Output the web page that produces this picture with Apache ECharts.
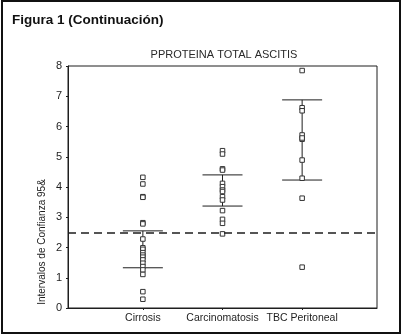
<!DOCTYPE html>
<html>
<head>
<meta charset="utf-8">
<script src="https://cdn.jsdelivr.net/npm/echarts@6/dist/echarts.min.js"></script>
<style>
  html, body { margin: 0; padding: 0; background: #fff; }
  #chart { width: 402px; height: 335px; }
</style>
</head>
<body>
<div id="chart"></div>
<script>
// groups on the x axis
const categories = ['Cirrosis', 'Carcinomatosis', 'TBC Peritoneal'];

const cirrosisValues = [4.32, 4.10, 3.68, 3.66, 2.82, 2.78, 2.28, 1.99, 1.94, 1.83, 1.75, 1.68, 1.59, 1.48, 1.37, 1.26, 1.11, 0.54, 0.29];
const carcinoValues = [5.20, 5.09, 4.60, 4.56, 4.12, 4.01, 3.90, 3.85, 3.68, 3.57, 3.22, 2.93, 2.80, 2.45];
const tbcValues = [7.85, 6.62, 6.52, 5.72, 5.58, 5.62, 4.89, 4.29, 3.63, 1.35];

// 95% confidence intervals per group
const ciLower = [1.33, 3.37, 4.23];
const ciUpper = [2.55, 4.40, 6.88];

// dashed reference line
const refLine = 2.5;

const groups = [cirrosisValues, carcinoValues, tbcValues];
const points = [];
groups.forEach((vals, i) => {
  vals.forEach(v => points.push([i + 1, v]));
});
const ciData = categories.map((c, i) => [i + 1, ciLower[i], ciUpper[i]]);

const ink = '#1e1e1e';
const font = '"Liberation Sans", Arial, sans-serif';

const chart = echarts.init(document.getElementById('chart'));

const option = {
  backgroundColor: '#fff',
  animation: false,
  title: {
    text: 'PPROTEINA TOTAL ASCITIS',
    left: 219,
    textAlign: 'center',
    top: 44,
    textStyle: { fontFamily: font, fontSize: 11, fontWeight: 'normal', color: '#2a2a2a' }
  },
  grid: {
    left: 68,
    right: 25,
    top: 66,
    bottom: 27,
    show: true,
    borderColor: ink,
    borderWidth: 1,
    backgroundColor: 'transparent'
  },
  xAxis: {
    type: 'value',
    min: 0.06,
    max: 3.94,
    axisLine: { show: true, lineStyle: { color: ink, width: 1 } },
    axisTick: { show: true, customValues: [1, 2, 3], length: 2, lineStyle: { color: ink } },
    axisLabel: {
      customValues: [1, 2, 3],
      formatter: v => categories[Math.round(v) - 1] || '',
      color: ink,
      fontFamily: font,
      fontSize: 10.5,
      margin: 5
    },
    splitLine: { show: false }
  },
  yAxis: {
    type: 'value',
    min: 0,
    max: 8,
    interval: 1,
    axisLine: { show: true, lineStyle: { color: ink, width: 1 } },
    axisTick: { show: true, length: 2, lineStyle: { color: ink } },
    axisLabel: { color: ink, fontFamily: font, fontSize: 11, margin: 6 },
    splitLine: { show: false }
  },
  series: [
    {
      type: 'custom',
      data: ciData,
      z: 3,
      renderItem: function (params, api) {
        const x = api.value(0);
        const lo = api.coord([x, api.value(1)]);
        const hi = api.coord([x, api.value(2)]);
        const hw = 20;
        const style = { stroke: ink, lineWidth: 1 };
        return {
          type: 'group',
          children: [
            { type: 'line', shape: { x1: lo[0], y1: lo[1], x2: hi[0], y2: hi[1] }, style },
            { type: 'line', shape: { x1: lo[0] - hw, y1: lo[1], x2: lo[0] + hw, y2: lo[1] }, style },
            { type: 'line', shape: { x1: hi[0] - hw, y1: hi[1], x2: hi[0] + hw, y2: hi[1] }, style }
          ]
        };
      }
    },
    {
      type: 'scatter',
      data: points,
      symbol: 'rect',
      symbolSize: 4.5,
      z: 4,
      itemStyle: { color: '#fff', borderColor: '#333', borderWidth: 1, opacity: 1 },
      markLine: {
        silent: true,
        symbol: ['none', 'none'],
        label: { show: false },
        lineStyle: { color: ink, type: [8, 5], width: 1.5 },
        data: [{ yAxis: refLine }]
      }
    }
  ],
  graphic: [
    {
      type: 'rect',
      shape: { x: 2, y: 1, width: 398, height: 332 },
      style: { fill: 'none', stroke: '#111', lineWidth: 2 },
      silent: true
    },
    {
      type: 'text',
      left: 12,
      top: 13,
      style: { text: 'Figura 1 (Continuación)', font: 'bold 13.5px ' + font, fill: '#111' }
    },
    {
      type: 'text',
      x: 42,
      y: 242,
      rotation: Math.PI / 2,
      style: {
        text: 'Intervalos de Confianza 95&',
        font: '10px ' + font,
        fill: ink,
        align: 'center',
        verticalAlign: 'middle'
      }
    }
  ]
};

chart.setOption(option);
</script>
</body>
</html>
